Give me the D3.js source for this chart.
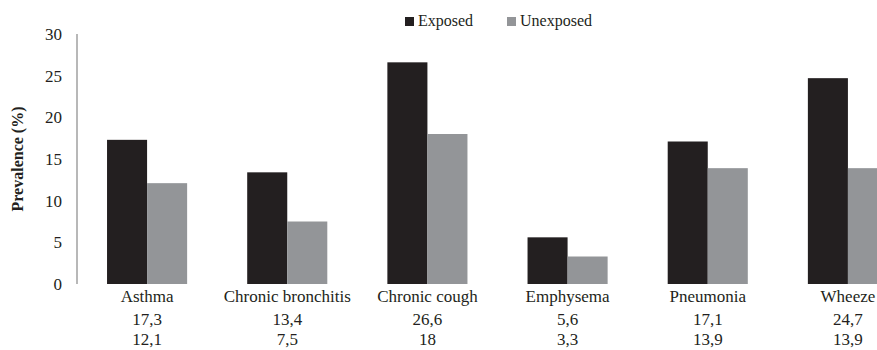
<!DOCTYPE html>
<html>
<head>
<meta charset="utf-8">
<script src="https://cdn.jsdelivr.net/npm/d3@7"></script>
<style>
  body { margin: 0; background: #fff; }
  svg { display: block; }
</style>
</head>
<body>
<div id="chart"></div>
<script>
// Data
const categories = ["Asthma", "Chronic bronchitis", "Chronic cough", "Emphysema", "Pneumonia", "Wheeze"];
const exposed = [17.3, 13.4, 26.6, 5.6, 17.1, 24.7];
const unexposed = [12.1, 7.5, 18, 3.3, 13.9, 13.9];
const seriesNames = ["Exposed", "Unexposed"];
const yTicks = [0, 5, 10, 15, 20, 25, 30];

const width = 877, height = 350;
const colors = ["#231f20", "#939598"];

const svg = d3.select("#chart").append("svg")
  .attr("width", width)
  .attr("height", height)
  .style("font-family", "'Liberation Serif', 'Times New Roman', serif");

// Scales
const x0 = d3.scaleBand()
  .domain(categories)
  .range([77, 918])
  .paddingInner(0.4286)
  .paddingOuter(0.2143);

const x1 = d3.scaleBand()
  .domain(seriesNames)
  .range([0, x0.bandwidth()]);

const y = d3.scaleLinear()
  .domain([0, 30])
  .range([284, 34]);

// Y axis
svg.append("line")
  .attr("x1", 77).attr("x2", 77)
  .attr("y1", y(30)).attr("y2", y(0))
  .attr("stroke", "#a0a0a0")
  .attr("stroke-width", 1.5);

svg.append("g").selectAll("text")
  .data(yTicks)
  .join("text")
  .attr("x", 62)
  .attr("y", d => y(d))
  .attr("dy", "0.35em")
  .attr("text-anchor", "end")
  .attr("font-size", 17)
  .attr("fill", "#231f20")
  .text(d => d);

svg.append("text")
  .attr("transform", `translate(23,${(y(30) + y(0)) / 2}) rotate(-90)`)
  .attr("text-anchor", "middle")
  .attr("font-size", 16)
  .attr("font-weight", "bold")
  .attr("fill", "#231f20")
  .text("Prevalence (%)");

// Bars
const rows = categories.map((c, i) => ({ cat: c, values: [exposed[i], unexposed[i]] }));

const groups = svg.append("g").selectAll("g")
  .data(rows)
  .join("g")
  .attr("transform", d => `translate(${x0(d.cat)},0)`);

groups.selectAll("rect")
  .data(d => d.values.map((v, j) => ({ key: seriesNames[j], value: v, j })))
  .join("rect")
  .attr("x", d => x1(d.key))
  .attr("y", d => y(d.value))
  .attr("width", x1.bandwidth())
  .attr("height", d => y(0) - y(d.value))
  .attr("fill", d => colors[d.j]);

// Category labels and data table rows
const fmt = v => String(v).replace(".", ",");
const labels = svg.append("g").selectAll("g")
  .data(rows)
  .join("g")
  .attr("transform", d => `translate(${x0(d.cat) + x0.bandwidth() / 2},0)`)
  .attr("text-anchor", "middle")
  .attr("font-size", 17)
  .attr("fill", "#231f20");

labels.append("text").attr("y", 302).text(d => d.cat);
labels.append("text").attr("y", 325).text(d => fmt(d.values[0]));
labels.append("text").attr("y", 345).text(d => fmt(d.values[1]));

// Legend
const legend = svg.append("g").selectAll("g")
  .data(seriesNames)
  .join("g")
  .attr("transform", (d, i) => `translate(${405 + i * 102},0)`);

legend.append("rect")
  .attr("width", 9).attr("height", 9)
  .attr("y", 17)
  .attr("fill", (d, i) => colors[i]);

legend.append("text")
  .attr("x", 13)
  .attr("y", 26)
  .attr("font-size", 16)
  .attr("fill", "#231f20")
  .text(d => d);
</script>
</body>
</html>
